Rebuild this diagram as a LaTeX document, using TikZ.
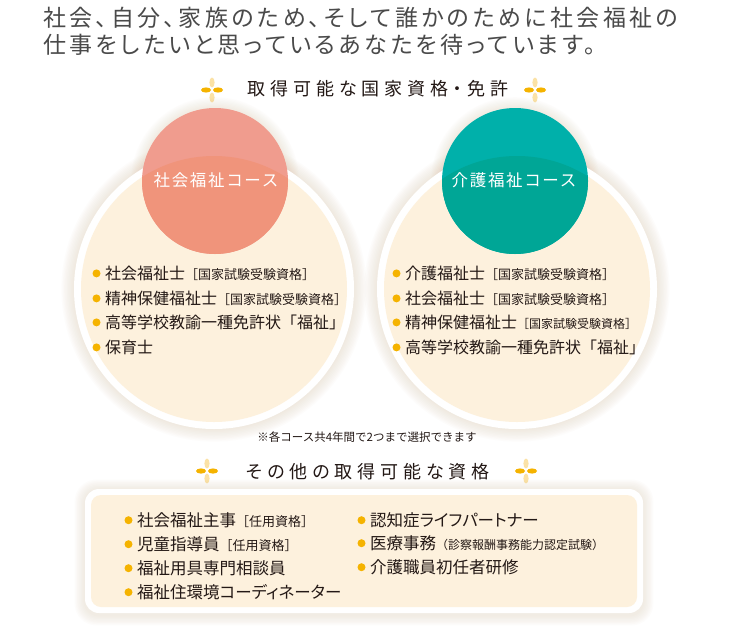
\documentclass[tikz,border=0pt]{standalone}
\usepackage{fontspec}
\usepackage{xcolor}
\usepackage{tikz}
\usetikzlibrary{positioning}

\newfontfamily\jp{Noto Sans CJK JP}
\newfontfamily\jptitle{Noto Sans CJK JP}[RawFeature=+palt, LetterSpace=15]
\newfontfamily\jpspaced{Noto Sans CJK JP}[RawFeature=+palt, LetterSpace=27]
\newfontfamily\jplabel{Noto Sans CJK JP}[LetterSpace=10]
\newfontfamily\jpprop{Noto Sans CJK JP}[RawFeature=+palt]

\definecolor{titlegray}{HTML}{4A4A4A}
\definecolor{inkdark}{HTML}{231815}
\definecolor{cream}{HTML}{FDF1DD}
\definecolor{glowtan}{HTML}{D8BE9E}
\definecolor{dotorange}{HTML}{F5B300}
\definecolor{petalpale}{HTML}{FBE2A6}
\definecolor{pinktop}{HTML}{F09C8E}
\definecolor{pinkin}{HTML}{F0947B}
\definecolor{tealtop}{HTML}{00B0AA}
\definecolor{tealin}{HTML}{00A696}

\newcommand\smallnote[1]{{\fontsize{13}{13}\selectfont #1}}
\newcommand\tinynote[1]{{\fontsize{12}{12}\selectfont #1}}

\begin{document}
\begin{tikzpicture}[x=1pt, y=-1pt,
    headline/.style={anchor=base west, inner sep=0pt, text=titlegray, font=\jptitle\fontsize{23}{27}\selectfont},
    heading/.style={anchor=base, inner sep=0pt, text=inkdark, font=\jpspaced\fontsize{18}{18}\selectfont},
    coursename/.style={anchor=base, inner sep=0pt, text=white, font=\jplabel\fontsize{16.5}{16.5}\selectfont},
    item/.style={anchor=base west, inner sep=0pt, text=inkdark, font=\jp\fontsize{16}{16}\selectfont},
    boxitem/.style={anchor=base west, inner sep=0pt, text=inkdark, font=\jp\fontsize{16.5}{16.5}\selectfont},
    dot/.style={dotorange}]
    \useasboundingbox (0,0) rectangle (730,640);
    \fill[white] (0,0) rectangle (730,640);

    % Title
    \node[headline] (line1) at (43,26.5) {社会、自分、家族のため、そして誰かのために社会福祉の};
    \node[headline] (line2) at (43,53.5) {仕事をしたいと思っているあなたを待っています。};
    \node[heading] (qual) at (378,95.5) {取得可能な国家資格・免許};

    % Sparkles
    \foreach \sx/\sy in {212/90, 535/90, 207/471, 526/471} {
        \fill[petalpale] (\sx,\sy-7.5) ellipse (2.6 and 5);
        \fill[petalpale] (\sx,\sy+7.5) ellipse (2.6 and 5);
        \fill[dotorange] (\sx-6,\sy) ellipse (5 and 2.6);
        \fill[dotorange] (\sx+6,\sy) ellipse (5 and 2.6);
    }

    % Course circles
    \coordinate (leftc) at (214,289);
    \coordinate (rightc) at (517,289);
    \coordinate (lefttop) at (215,181);
    \coordinate (righttop) at (515,181);
    \foreach \g in {1,...,9} {
        \fill[glowtan, opacity=0.035] (leftc) circle [radius=140+1.4*\g];
        \fill[glowtan, opacity=0.035] (rightc) circle [radius=140+1.4*\g];
        \fill[glowtan, opacity=0.03] (lefttop) circle [radius=73+1.2*\g];
        \fill[glowtan, opacity=0.03] (righttop) circle [radius=73+1.2*\g];
    }
    \fill[white] (leftc) circle [radius=140];
    \fill[white] (rightc) circle [radius=140];
    \fill[cream] (leftc) circle [radius=133];
    \fill[cream] (rightc) circle [radius=133];

    \fill[pinktop] (lefttop) circle [radius=73];
    \fill[tealtop] (righttop) circle [radius=73];
    \begin{scope}
        \clip (leftc) circle [radius=133];
        \fill[pinkin] (lefttop) circle [radius=73];
    \end{scope}
    \begin{scope}
        \clip (rightc) circle [radius=133];
        \fill[tealin] (righttop) circle [radius=73];
    \end{scope}
    \node[coursename] (social) at (216,186) {社会福祉コース};
    \node[coursename] (care) at (514,186) {介護福祉コース};

    % Left list
    \node[item] (s1) at (105,279) {社会福祉士\smallnote{［国家試験受験資格］}};
    \node[item] (s2) at (105,304) {精神保健福祉士\smallnote{［国家試験受験資格］}};
    \node[item] (s3) at (105,328) {高等学校教諭一種免許状「福祉」};
    \node[item] (s4) at (105,353) {保育士};
    % Right list
    \node[item] (c1) at (405,279) {介護福祉士\smallnote{［国家試験受験資格］}};
    \node[item] (c2) at (405,304) {社会福祉士\smallnote{［国家試験受験資格］}};
    \node[item] (c3) at (405,328) {精神保健福祉士\tinynote{［国家試験受験資格］}};
    \node[item] (c4) at (405,353) {高等学校教諭一種免許状「福祉」};
    \foreach \n in {s1,s2,s3,s4,c1,c2,c3,c4}
        \fill[dot] ([xshift=-8.5pt, yshift=5.6pt]\n.base west) circle (4pt);

    \node[anchor=base, inner sep=0pt, text=inkdark, font=\jp\fontsize{11.5}{11.5}\selectfont] (remark) at (367,441) {※各コース共4年間で2つまで選択できます};
    \node[heading] (other) at (368,478) {その他の取得可能な資格};

    % Other qualifications box
    \foreach \g in {1,...,8}
        \fill[glowtan, opacity=0.035, rounded corners=14+\g] ({85-1.3*\g},{490-1.3*\g}) rectangle ({643+1.3*\g},{615+1.3*\g});
    \fill[white, rounded corners=14] (85,489) rectangle (643,613);
    \fill[cream, rounded corners=10] (91,495) rectangle (637,607);

    \node[boxitem] (o1) at (137,526) {社会福祉主事\smallnote{［任用資格］}};
    \node[boxitem] (o2) at (137,550) {児童指導員\smallnote{［任用資格］}};
    \node[boxitem] (o3) at (137,574) {福祉用具専門相談員};
    \node[boxitem] (o4) at (137,598) {\jpprop 福祉住環境コーディネーター};
    \node[boxitem] (o5) at (370,526) {\jpprop 認知症ライフパートナー};
    \node[boxitem] (o6) at (370,549) {医療事務\tinynote{（診察報酬事務能力認定試験）}};
    \node[boxitem] (o7) at (370,573) {介護職員初任者研修};
    \foreach \n in {o1,o2,o3,o4,o5,o6,o7}
        \fill[dot] ([xshift=-8.5pt, yshift=5.8pt]\n.base west) circle (4pt);
\end{tikzpicture}
\end{document}
